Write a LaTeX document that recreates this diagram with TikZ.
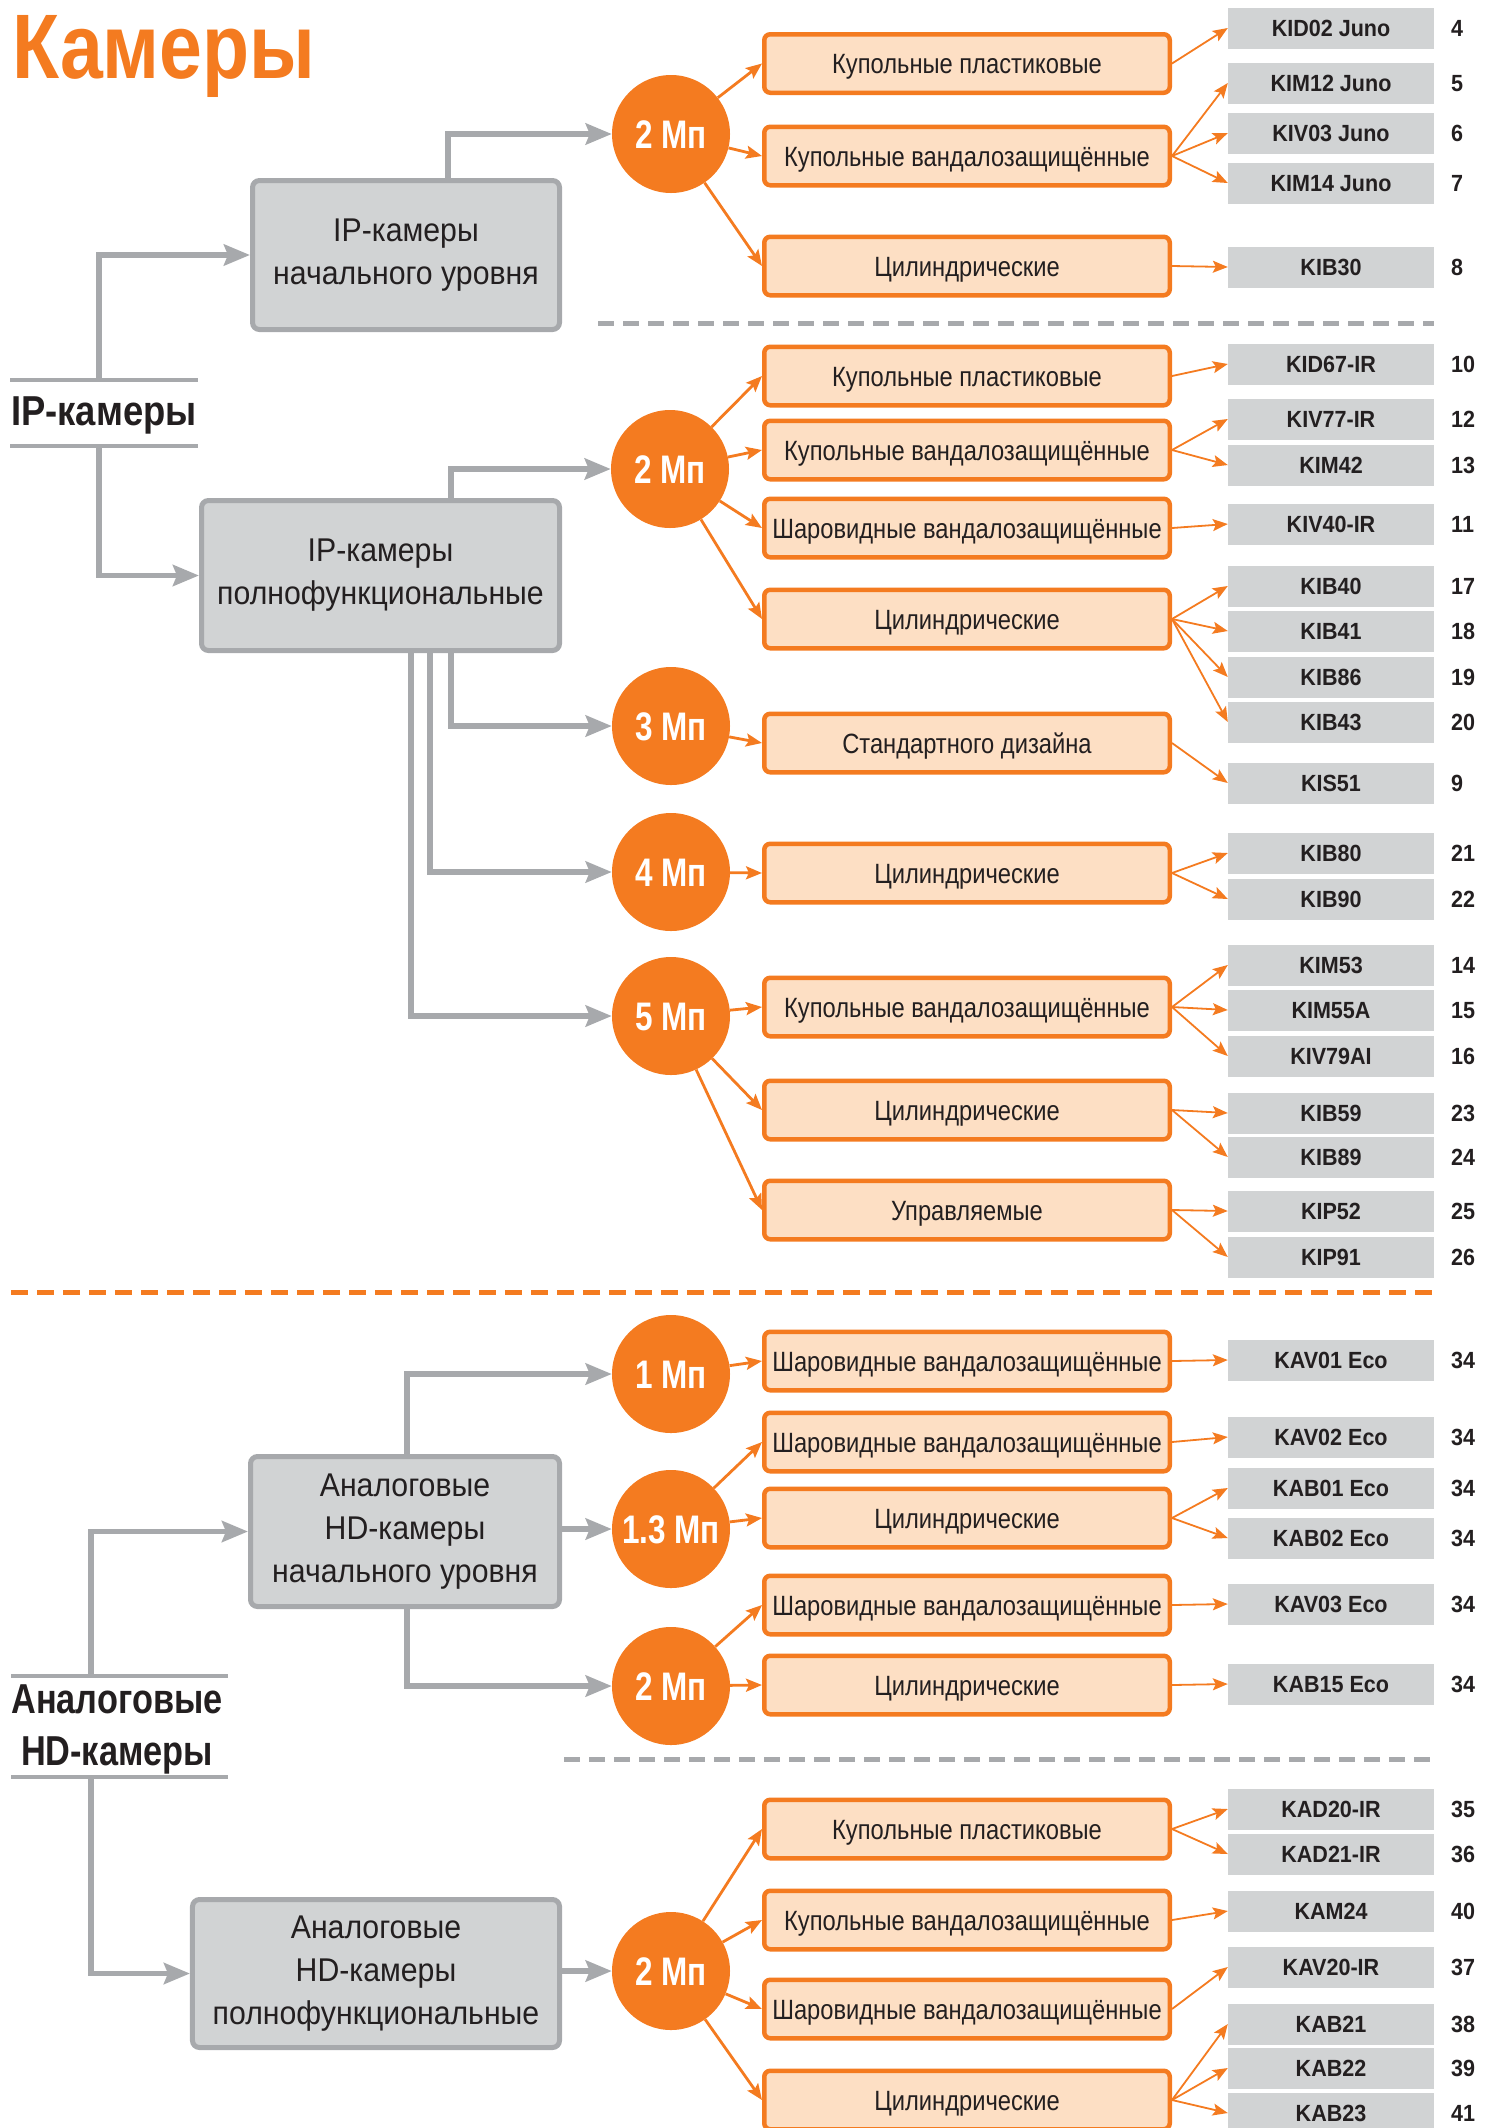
\documentclass[tikz,border=0pt]{standalone}
\usepackage{fontspec}
\setmainfont{Liberation Sans}
\newfontfamily\fTitle{Liberation Sans}[FakeStretch=0.84]
\newfontfamily\fBox{Liberation Sans}[FakeStretch=0.92]
\newfontfamily\fCat{Liberation Sans}[FakeStretch=0.85]
\newfontfamily\fCirc{Liberation Sans}[FakeStretch=0.79]
\newfontfamily\fModel{Liberation Sans}[FakeStretch=0.92]
\newfontfamily\fLab{Liberation Sans}[FakeStretch=0.87]
\newfontfamily\fLabB{Liberation Sans}[FakeStretch=0.82]
\usetikzlibrary{arrows.meta,calc}
\definecolor{orng}{RGB}{244,123,32}
\definecolor{peach}{RGB}{253,223,196}
\definecolor{lgray}{RGB}{167,169,172}
\definecolor{bgray}{RGB}{209,211,212}
\definecolor{dark}{RGB}{35,31,32}
\tikzset{
 graybox/.style={draw=lgray, line width=5bp, fill=bgray, rounded corners=7bp, align=center, text=dark, inner sep=0pt, font=\fBox\fontsize{33}{43}\selectfont},
 catbox/.style={draw=orng, line width=4.5bp, fill=peach, rounded corners=6bp, minimum width=405.5bp, minimum height=58.5bp, inner sep=0pt, text height=20bp, text depth=0bp, text=dark, font=\fCat\fontsize{28}{30}\selectfont},
 mbox/.style={fill=bgray, minimum width=206bp, minimum height=41bp, inner sep=0pt, text height=17bp, text depth=0bp, text=dark, font=\fModel\bfseries\fontsize{23.5}{25}\selectfont},
 mnum/.style={anchor=west, inner sep=0pt, text height=17bp, text depth=0bp, text=dark, font=\fModel\bfseries\fontsize{23.5}{25}\selectfont},
 mpx/.style={circle, fill=orng, minimum size=118bp, inner sep=0pt, text=white, text height=28bp, text depth=0bp, font=\fCirc\bfseries\fontsize{40}{40}\selectfont},
 gconn/.style={draw=lgray, line width=5.5bp, -{Stealth[length=26bp,width=21bp,inset=4bp]}},
 oarrA/.style={draw=orng, line width=2.8bp, -{Stealth[length=16bp,width=13bp,inset=3bp]}},
 oarrB/.style={draw=orng, line width=1.8bp, -{Stealth[length=15bp,width=12bp,inset=3bp]}},
 gline/.style={draw=lgray, line width=3.5bp},
 labtext/.style={anchor=base, inner sep=0pt, text=dark, font=\fLab\bfseries\fontsize{42}{42}\selectfont},
 labtextB/.style={anchor=base, inner sep=0pt, text=dark, font=\fLabB\bfseries\fontsize{42}{42}\selectfont},
}
\begin{document}
\begin{tikzpicture}[x=1bp,y=-1bp]
\useasboundingbox (0,0) rectangle (1491,2128);
\node[anchor=base west, inner sep=0pt, text=orng, font=\fTitle\bfseries\fontsize{92}{92}\selectfont] (title) at (12,78) {Камеры};

% level-1 labels
\node[labtext] (ipL) at (104,425) {IP-камеры};
\draw[gline] (10,380) -- (198,380);
\draw[gline] (10,446) -- (198,446);
\coordinate (ipLt) at (99,380);
\coordinate (ipLb) at (99,446);

\node[labtextB] (anL1) at (117,1713) {Аналоговые};
\node[labtextB] (anL2) at (117,1765) {HD-камеры};
\draw[gline] (11,1676) -- (228,1676);
\draw[gline] (11,1777) -- (228,1777);
\coordinate (anLt) at (91,1676);
\coordinate (anLb) at (91,1777);

% gray boxes
\node[graybox, minimum width=307bp, minimum height=149bp] (box1) at (406,255) {IP-камеры\\начального уровня};
\node[graybox, minimum width=358bp, minimum height=150bp] (box2) at (380.5,575.5) {IP-камеры\\полнофункциональные};
\node[graybox, minimum width=309bp, minimum height=150bp] (box3) at (405,1531.5) {Аналоговые\\HD-камеры\\начального уровня};
\node[graybox, minimum width=367bp, minimum height=148bp] (box4) at (376,1973.5) {Аналоговые\\HD-камеры\\полнофункциональные};

% circles
\node[mpx] (A) at (671,134) {2 Мп};
\node[mpx] (B) at (670,469) {2 Мп};
\node[mpx] (C) at (671,726) {3 Мп};
\node[mpx] (D) at (671,872) {4 Мп};
\node[mpx] (E) at (671,1016) {5 Мп};
\node[mpx] (F) at (671,1374) {1 Мп};
\node[mpx] (G) at (671,1529) {1.3 Мп};
\node[mpx] (H) at (671,1686) {2 Мп};
\node[mpx] (I) at (671,1971) {2 Мп};

% category boxes
\foreach \nm/\y/\t in {
 A1/63.5/Купольные пластиковые, A2/156/Купольные вандалозащищённые, A3/266/Цилиндрические,
 B1/376/Купольные пластиковые, B2/450/Купольные вандалозащищённые, B3/528/Шаровидные вандалозащищённые, B4/619/Цилиндрические,
 C1/743/Стандартного дизайна, D1/873/Цилиндрические,
 E1/1007/Купольные вандалозащищённые, E2/1110/Цилиндрические, E3/1210/Управляемые,
 F1/1361/Шаровидные вандалозащищённые,
 G1/1442/Шаровидные вандалозащищённые, G2/1518/Цилиндрические,
 H1/1605/Шаровидные вандалозащищённые, H2/1685/Цилиндрические,
 I1/1829/Купольные пластиковые, I2/1920/Купольные вандалозащищённые, I3/2009/Шаровидные вандалозащищённые, I4/2100/Цилиндрические}
 {\node[catbox] (\nm) at (967,\y) {\t};}

% model boxes and numbers
\foreach \nm/\y/\t/\k in {
 m1/28/KID02 Juno/4, m2/83/KIM12 Juno/5, m3/133/KIV03 Juno/6, m4/183/KIM14 Juno/7, m5/267/KIB30/8,
 m6/364/KID67-IR/10, m7/419/KIV77-IR/12, m8/465/KIM42/13, m9/524/KIV40-IR/11,
 m10/586/KIB40/17, m11/631/KIB41/18, m12/677/KIB86/19, m13/722/KIB43/20, m14/783/KIS51/9,
 m15/853/KIB80/21, m16/899/KIB90/22, m17/965/KIM53/14, m18/1010/KIM55A/15, m19/1056/KIV79AI/16,
 m20/1113/KIB59/23, m21/1157/KIB89/24, m22/1211/KIP52/25, m23/1257/KIP91/26,
 m24/1360/KAV01 Eco/34, m25/1437/KAV02 Eco/34, m26/1488/KAB01 Eco/34, m27/1538/KAB02 Eco/34,
 m28/1604/KAV03 Eco/34, m29/1684/KAB15 Eco/34,
 m30/1809/KAD20-IR/35, m31/1854/KAD21-IR/36, m32/1911/KAM24/40, m33/1967/KAV20-IR/37,
 m34/2024/KAB21/38, m35/2068/KAB22/39, m36/2113/KAB23/41}
 {\node[mbox] (\nm) at (1331,\y) {\t};
  \node[mnum] (\nm n) at (1451,\y) {\k};}

% dashed separators
\draw[lgray, line width=5bp, dash pattern=on 16bp off 9bp] (598,323) -- (1434,323);
\draw[orng, line width=5bp, dash pattern=on 17bp off 9bp] (11,1292) -- (1434,1292);
\draw[lgray, line width=5bp, dash pattern=on 16bp off 9bp] (564,1759) -- (1434,1759);

% gray connectors
\draw[gconn] (ipLt) |- (box1.west);
\draw[gconn] (ipLb) |- (box2.west);
\draw[gconn] ([xshift=42bp]box1.north) |- (A.west);
\draw[gconn] ([xshift=70.5bp]box2.north) |- (B.west);
\draw[gconn] ([xshift=70.5bp]box2.south) |- (C.west);
\draw[gconn] ([xshift=49.5bp]box2.south) |- (D.west);
\draw[gconn] ([xshift=30.5bp]box2.south) |- (E.west);
\draw[gconn] (anLt) |- (box3.west);
\draw[gconn] (anLb) |- (box4.west);
\draw[gconn] ([xshift=2bp]box3.north) |- (F.west);
\draw[gconn] (box3.east |- G.west) -- (G.west);
\draw[gconn] ([xshift=2bp]box3.south) |- (H.west);
\draw[gconn] (box4.east |- I.west) -- (I.west);

% circle -> category
\foreach \c/\k in {A/A1,A/A2,A/A3,B/B1,B/B2,B/B3,B/B4,C/C1,D/D1,E/E1,E/E2,E/E3,
 F/F1,G/G1,G/G2,H/H1,H/H2,I/I1,I/I2,I/I3,I/I4}
 {\draw[oarrA] (\c) -- (\k.west);}

% category -> model
\foreach \k/\m in {A1/m1,A2/m2,A2/m3,A2/m4,A3/m5,B1/m6,B2/m7,B2/m8,B3/m9,
 B4/m10,B4/m11,B4/m12,B4/m13,C1/m14,D1/m15,D1/m16,E1/m17,E1/m18,E1/m19,
 E2/m20,E2/m21,E3/m22,E3/m23,F1/m24,G1/m25,G2/m26,G2/m27,H1/m28,H2/m29,
 I1/m30,I1/m31,I2/m32,I3/m33,I4/m34,I4/m35,I4/m36}
 {\draw[oarrB] (\k.east) -- (\m.west);}
\end{tikzpicture}
\end{document}
